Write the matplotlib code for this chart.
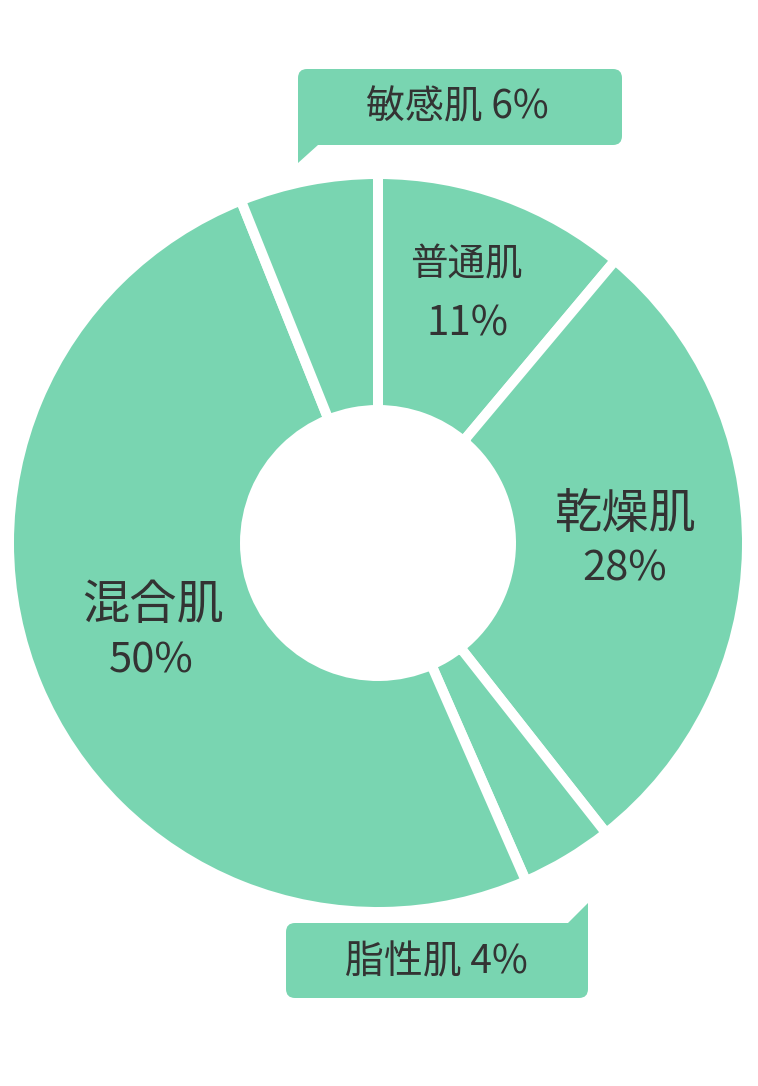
import matplotlib
matplotlib.use("Agg")
import matplotlib.pyplot as plt
from matplotlib.patches import FancyBboxPatch, Polygon

plt.rcParams['font.family'] = ['Noto Sans CJK JP', 'DejaVu Sans']

# skin types, clockwise from 12 o'clock
labels = ['普通肌', '乾燥肌', '脂性肌', '混合肌', '敏感肌']
shares = [11, 28, 4, 50, 6]

GREEN = '#79d5b1'
INK = '#333333'
W, H = 758, 1086


def fy(y):
    # pixel row (from top) -> data y
    return H - y


fig = plt.figure(figsize=(W / 100, H / 100), dpi=100)
ax = fig.add_axes([0, 0, 1, 1])

gap = 7.2  # white separators, in points (~10 px)
ax.pie(shares, startangle=90, counterclock=False, colors=[GREEN] * len(shares),
       center=(378, fy(543)), radius=369,
       wedgeprops=dict(width=369 - 133, edgecolor='white', linewidth=gap))
ax.set_xlim(0, W)
ax.set_ylim(0, H)
ax.set_aspect('equal')
ax.axis('off')

# labels inside the ring
pct = [f'{v}%' for v in shares]
ax.text(466, fy(265), labels[0], ha='center', va='center', fontsize=27, color=INK)
ax.text(467, fy(324), pct[0], ha='center', va='center', fontsize=29, color=INK)
ax.text(625, fy(515), labels[1], ha='center', va='center', fontsize=34, color=INK)
ax.text(625, fy(569), pct[1], ha='center', va='center', fontsize=30, color=INK)
ax.text(153, fy(606), labels[3], ha='center', va='center', fontsize=34, color=INK)
ax.text(151, fy(661), pct[3], ha='center', va='center', fontsize=30, color=INK)


def callout(x0, x1, y0, y1, tail, text, tx, ty):
    box = FancyBboxPatch((x0, fy(y1)), x1 - x0, y1 - y0,
                         boxstyle='round,pad=0,rounding_size=9',
                         facecolor=GREEN, edgecolor='none')
    ax.add_patch(box)
    ax.add_patch(Polygon([(x, fy(y)) for x, y in tail], closed=True,
                         facecolor=GREEN, edgecolor='none'))
    ax.text(tx, fy(ty), text, ha='center', va='center', fontsize=28, color=INK)


# small slices get callout boxes
callout(298, 622, 69, 145, [(298, 130), (298, 163), (318, 145), (318, 130)],
        f'{labels[4]} {pct[4]}', 457, 107)
callout(286, 588, 923, 998, [(588, 940), (588, 903), (568, 923), (568, 940)],
        f'{labels[2]} {pct[2]}', 436, 962)

fig.savefig('out.png', dpi=100)
